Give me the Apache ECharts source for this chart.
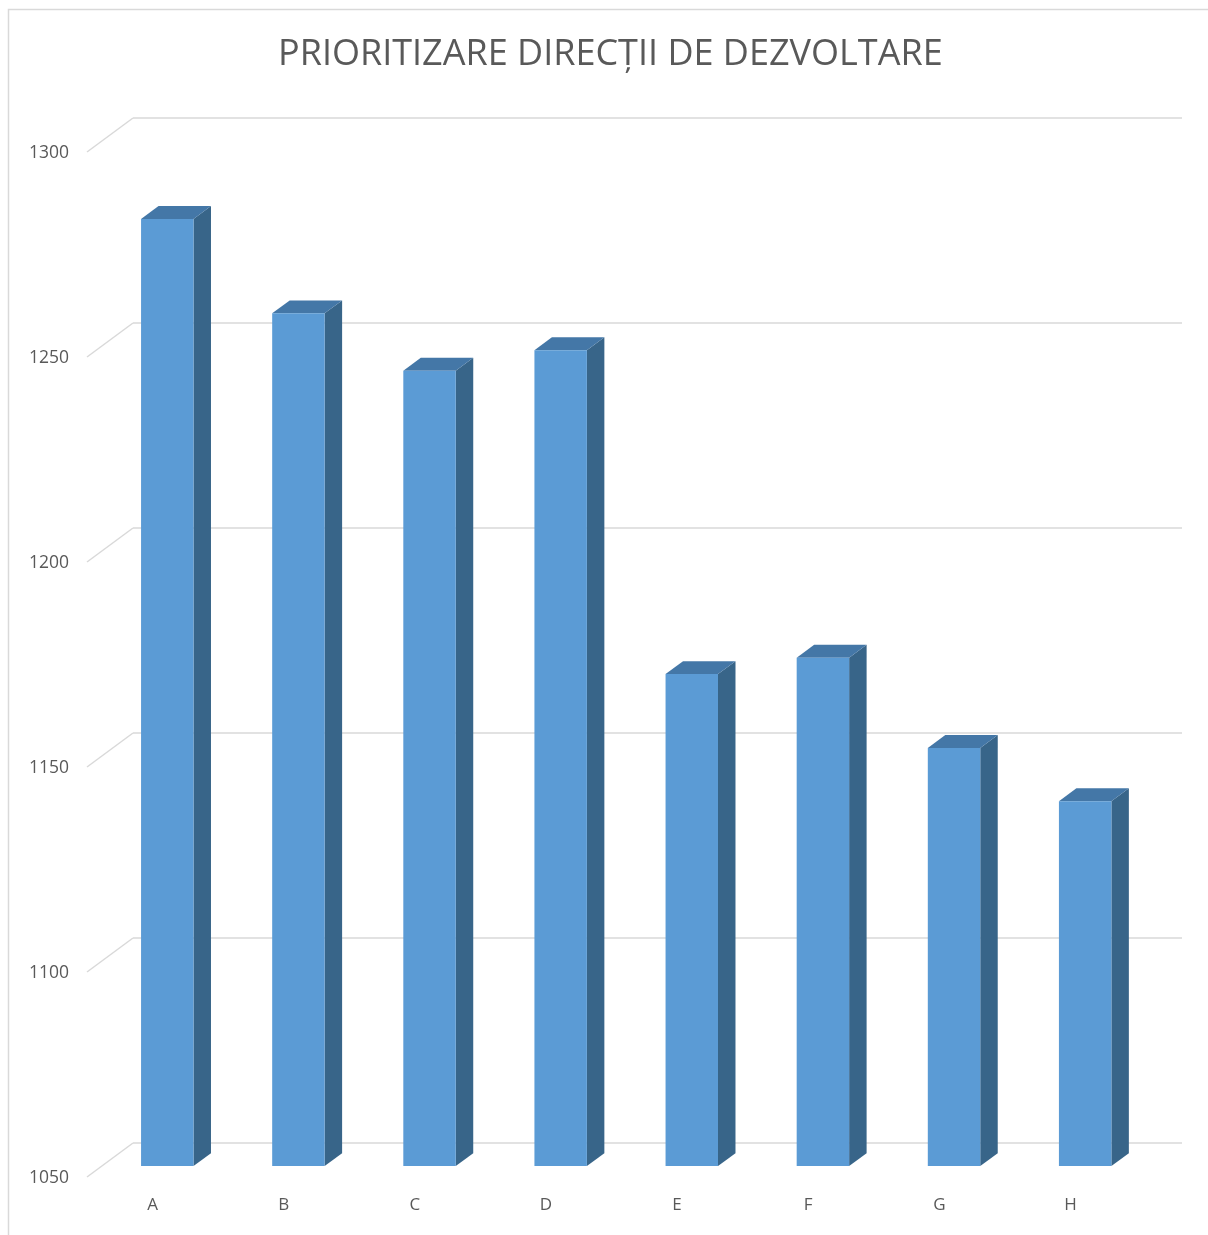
<!DOCTYPE html>
<html>
<head>
<meta charset="utf-8">
<script src="https://cdn.jsdelivr.net/npm/echarts@6/dist/echarts.min.js"></script>
<style>html,body{margin:0;padding:0;background:#fff;}#c{width:1208px;height:1235px;}</style>
</head>
<body>
<div id="c"></div>
<script>
const title = 'PRIORITIZARE DIRECȚII DE DEZVOLTARE';
const categories = ['A', 'B', 'C', 'D', 'E', 'F', 'G', 'H'];
const values = [1281, 1258, 1244, 1249, 1170, 1174, 1152, 1139];
const yTicks = [1050, 1100, 1150, 1200, 1250, 1300];
const yTickLabels = ['1050', '1100', '1150', '1200', '1250', '1300'];

// oblique depth of the 3D floor (back wall -> front plane)
const DEPTH_DX = -46, DEPTH_DY = 34;
const BAR_FRONT = 0.32, BAR_BACK = 0.70; // depth fractions measured from the front
const BAR_W = 0.4; // fraction of category band

const chart = echarts.init(document.getElementById('c'), null, {renderer: 'canvas'});
const font = '"Open Sans", "Noto Sans", sans-serif';

chart.setOption({
  backgroundColor: '#ffffff',
  animation: false,
  title: {
    text: title,
    left: 273,
    top: 32,
    textStyle: {fontFamily: font, fontSize: 36, fontWeight: 'normal', color: '#595959'}
  },
  graphic: [{
    type: 'rect', silent: true,
    shape: {x: 8.5, y: 9.5, width: 1400, height: 1400},
    style: {fill: 'none', stroke: '#d9d9d9', lineWidth: 1.5}
  }],
  grid: {left: 133, right: 26, top: 118, bottom: 92},
  xAxis: {
    type: 'category',
    data: categories,
    axisLine: {show: false},
    axisTick: {show: false},
    axisLabel: {
      margin: 54, fontFamily: font, fontSize: 17, color: '#595959',
      padding: [0, 92, 0, 0]
    }
  },
  yAxis: {
    type: 'value',
    min: 1050, max: 1300, interval: 50,
    axisLine: {show: false},
    axisTick: {show: false},
    splitLine: {lineStyle: {color: '#d9d9d9', width: 1.5}},
    axisLabel: {show: false}
  },
  series: [
    {
      type: 'custom',
      silent: true,
      data: yTicks.map((t, i) => [t, i]),
      encode: {y: 0},
      renderItem: function (params, api) {
        const p = api.coord([0, api.value(0)]);
        const x0 = params.coordSys.x;
        return {
          type: 'group',
          children: [
            {
              type: 'line',
              shape: {x1: x0, y1: p[1], x2: x0 + DEPTH_DX, y2: p[1] + DEPTH_DY},
              style: {stroke: '#d9d9d9', lineWidth: 1.5}
            },
            {
              type: 'text',
              style: {
                text: yTickLabels[api.value(1)],
                x: x0 + DEPTH_DX - 18, y: p[1] + DEPTH_DY + 1,
                align: 'right', verticalAlign: 'middle',
                font: '17.5px ' + font, fill: '#595959'
              }
            }
          ]
        };
      }
    },
    {
      type: 'custom',
      data: values.map((v, i) => [i, v]),
      encode: {x: 0, y: 1},
      renderItem: function (params, api) {
        const i = api.value(0), v = api.value(1);
        const top = api.coord([i, v]);
        const base = api.coord([i, 1050]);
        const band = api.size([1, 0])[0];
        const hw = band * BAR_W / 2;
        const fx = DEPTH_DX * (1 - BAR_FRONT), fy = DEPTH_DY * (1 - BAR_FRONT);
        const bx = DEPTH_DX * (1 - BAR_BACK), by = DEPTH_DY * (1 - BAR_BACK);
        const cxF = top[0] + fx, cxB = top[0] + bx;
        const tF = top[1] + fy, bF = base[1] + fy;
        const tB = top[1] + by, bB = base[1] + by;
        const FL = [cxF - hw, tF], FR = [cxF + hw, tF];
        const BL = [cxB - hw, tB], BR = [cxB + hw, tB];
        const FRb = [cxF + hw, bF], BRb = [cxB + hw, bB];
        return {
          type: 'group',
          children: [
            {type: 'polygon', shape: {points: [FR, BR, BRb, FRb]}, style: {fill: '#386589'}},
            {type: 'polygon', shape: {points: [FL, FR, BR, BL]}, style: {fill: '#4477a7'}},
            {type: 'rect', shape: {x: cxF - hw, y: tF, width: hw * 2, height: bF - tF}, style: {fill: '#5b9bd5'}}
          ]
        };
      }
    }
  ]
});
</script>
</body>
</html>
